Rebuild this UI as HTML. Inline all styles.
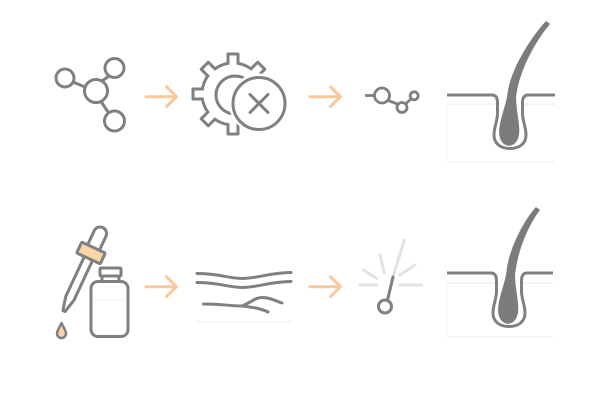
<!DOCTYPE html>
<html>
<head>
<meta charset="utf-8">
<style>
  html,body{margin:0;padding:0;background:#fff;}
  body{width:600px;height:400px;overflow:hidden;}
  svg{display:block;}
</style>
</head>
<body>
<svg width="600" height="400" viewBox="0 0 600 400" xmlns="http://www.w3.org/2000/svg">
  <defs>
    <rect id="tg" x="226.5" y="52.5" width="13" height="14" rx="1.5" fill="#808080"/>
    <rect id="tw" x="229.5" y="55.5" width="7" height="12" fill="#fff"/>
  </defs>

  <!-- ROW 1 -->
  <!-- Molecule -->
  <g fill="none" stroke="#808080" stroke-width="3">
    <line x1="73" y1="82" x2="85" y2="87"/>
    <line x1="102" y1="81" x2="109" y2="76"/>
    <line x1="101" y1="101.5" x2="108" y2="112"/>
    <circle cx="65" cy="78" r="9"/>
    <circle cx="96" cy="91" r="11.5"/>
    <circle cx="114.5" cy="68" r="9.5"/>
    <circle cx="114.5" cy="121" r="10"/>
  </g>

  <!-- Arrows -->
  <g fill="none" stroke="#f9c89b" stroke-width="3" stroke-linecap="round" stroke-linejoin="round">
    <path d="M146 96.7 H176 M166.5 86.7 L176.5 96.7 L166.5 106.5"/>
    <path d="M310 96.7 H340 M330.5 86.7 L340.5 96.7 L330.5 106.5"/>
    <path d="M146 286.7 H176 M166.5 276.7 L176.5 286.7 L166.5 296.5"/>
    <path d="M310 286.7 H340 M330.5 276.7 L340.5 286.7 L330.5 296.5"/>
  </g>

  <!-- Gear -->
  <circle cx="233" cy="94" r="32.5" fill="#808080"/>
  <use href="#tg" transform="rotate(0 233 94)"/>
  <use href="#tg" transform="rotate(45 233 94)"/>
  <use href="#tg" transform="rotate(90 233 94)"/>
  <use href="#tg" transform="rotate(135 233 94)"/>
  <use href="#tg" transform="rotate(180 233 94)"/>
  <use href="#tg" transform="rotate(225 233 94)"/>
  <use href="#tg" transform="rotate(270 233 94)"/>
  <use href="#tg" transform="rotate(315 233 94)"/>
  <circle cx="233" cy="94" r="29.5" fill="#fff"/>
  <use href="#tw" transform="rotate(0 233 94)"/>
  <use href="#tw" transform="rotate(45 233 94)"/>
  <use href="#tw" transform="rotate(90 233 94)"/>
  <use href="#tw" transform="rotate(135 233 94)"/>
  <use href="#tw" transform="rotate(180 233 94)"/>
  <use href="#tw" transform="rotate(225 233 94)"/>
  <use href="#tw" transform="rotate(270 233 94)"/>
  <use href="#tw" transform="rotate(315 233 94)"/>
  <circle cx="235" cy="95" r="19" fill="none" stroke="#808080" stroke-width="3"/>
  <circle cx="259" cy="103.5" r="30" fill="#fff"/>
  <circle cx="259" cy="103.5" r="26" fill="#fff" stroke="#808080" stroke-width="3"/>
  <g stroke="#808080" stroke-width="3" stroke-linecap="round">
    <line x1="250" y1="94.5" x2="268" y2="112.5"/>
    <line x1="268" y1="94.5" x2="250" y2="112.5"/>
  </g>

  <!-- Small molecule -->
  <g fill="none" stroke="#808080" stroke-width="2.8">
    <line x1="365" y1="95.5" x2="374.5" y2="95.5"/>
    <circle cx="382" cy="95.5" r="7.5"/>
    <line x1="388" y1="100.5" x2="397.5" y2="104"/>
    <circle cx="402" cy="107.5" r="5"/>
    <line x1="405.5" y1="104" x2="411" y2="99"/>
    <circle cx="414.2" cy="95.8" r="4"/>
  </g>

  <!-- Hair row 1 -->
  <g transform="translate(510 95)">
    <line x1="-63" y1="9.3" x2="45" y2="9.3" stroke="#f1f1f1" stroke-width="1.5"/>
    <line x1="-63" y1="66.7" x2="45" y2="66.7" stroke="#f4f4f4" stroke-width="1.5"/>
    <line x1="-63" y1="9.3" x2="-63" y2="66.7" stroke="#f6f6f6" stroke-width="1"/>
    <path d="M-63 0 L-18 0 C-14 0 -12.5 3 -12.5 8 L-12.5 18 C-12.5 26 -16 32 -16 40 C-16 49 -9 53.5 0 53.5 C9 53.5 16 49 16 40 C16 32 12.5 26 12.5 18 L12.5 8 C12.5 3 14 0 18 0 L45 0" fill="#fff" stroke="#808080" stroke-width="3" stroke-linejoin="round"/>
    <path d="M36 -73 C20 -55 1 -25 -2 0 C-3 10 -9 22 -10 34 C-11 45 -6 50 -1 50 C4 50 9 45 8.5 34 C8 22 4.5 10 5.5 0 C9 -25 24 -53 39 -71 Z" fill="#7c7c7c" stroke="#7c7c7c" stroke-width="1.5" stroke-linejoin="round"/>
  </g>

  <!-- ROW 2 -->
  <!-- Dropper -->
  <g transform="translate(91 253) rotate(25)" stroke="#808080" stroke-width="3" stroke-linejoin="round">
    <path d="M-6.5 -6 L-6.5 -21.5 A6.5 6.5 0 0 1 6.5 -21.5 L6.5 -6" fill="#fff"/>
    <path d="M-4.5 6 L-4.5 50 L-1.2 64 L1.2 64 L4.5 50 L4.5 6" fill="#fff"/>
    <rect x="-13" y="-6" width="26" height="12" rx="1" fill="#fbd5a9"/>
  </g>
  <path d="M61.5 323 C59.5 327.5 57 330.5 57 333.5 A4.5 4.5 0 0 0 66 333.5 C66 330.5 63.5 327.5 61.5 323 Z" fill="#fbd5a9" stroke="#808080" stroke-width="2.5" stroke-linejoin="round"/>
  <!-- Bottle -->
  <g fill="#fff" stroke="#808080" stroke-width="3" stroke-linejoin="round">
    <rect x="100" y="268" width="21" height="8" rx="1"/>
    <path d="M102 276 L102 281.5 M119 276 L119 281.5" fill="none"/>
    <rect x="91" y="281.5" width="37" height="55" rx="7"/>
  </g>
  <line x1="94" y1="300" x2="125" y2="300" stroke="#f0f0f0" stroke-width="1"/>

  <!-- Wavy lines -->
  <g fill="none" stroke="#808080" stroke-width="3" stroke-linecap="round">
    <path d="M197 273.5 C220 273.5 228 278.5 242 278.5 C258 278.5 270 272.5 291 272.5"/>
    <path d="M197 282.5 C220 282.5 228 287.5 242 287.5 C258 287.5 270 281.5 291 281.5"/>
    <path d="M203.5 304 C220 304 232 306 242 306 C250 303 255 297.5 262 297.5 C270 297.5 276 301 282 303"/>
    <path d="M242 306 C252 307 262 309 268 312"/>
  </g>
  <line x1="197" y1="322" x2="291" y2="322" stroke="#f2f2f2" stroke-width="1.5"/>

  <!-- Spark -->
  <g stroke="#e3e3e3" stroke-width="3" stroke-linecap="round">
    <line x1="393" y1="277" x2="404.3" y2="240"/>
    <line x1="380" y1="255" x2="384.3" y2="272.7"/>
    <line x1="363.3" y1="270" x2="376.7" y2="278.3"/>
    <line x1="360" y1="285" x2="376.7" y2="285"/>
    <line x1="400" y1="275" x2="415" y2="265"/>
    <line x1="400" y1="285" x2="421.7" y2="285"/>
  </g>
  <line x1="387.5" y1="300" x2="393" y2="277" stroke="#808080" stroke-width="3" stroke-linecap="round"/>
  <circle cx="385" cy="306.5" r="6.5" fill="#fff" stroke="#808080" stroke-width="3"/>

  <!-- Hair row 2 -->
  <g transform="translate(509 273)">
    <line x1="-62" y1="10.3" x2="44" y2="10.3" stroke="#f1f1f1" stroke-width="1.5"/>
    <line x1="-62" y1="63.7" x2="44" y2="63.7" stroke="#f4f4f4" stroke-width="1.5"/>
    <line x1="-62" y1="10.3" x2="-62" y2="63.7" stroke="#f6f6f6" stroke-width="1"/>
    <path d="M-62 0 L-18 0 C-14 0 -12.5 3 -12.5 8 L-12.5 18 C-12.5 26 -16 32 -16 40 C-16 49 -9 53.5 0 53.5 C9 53.5 16 49 16 40 C16 32 12.5 26 12.5 18 L12.5 8 C12.5 3 14 0 18 0 L44 0" fill="#fff" stroke="#808080" stroke-width="3" stroke-linejoin="round"/>
    <path d="M27 -65 C14 -50 0 -22 -2 0 C-3 10 -9 22 -10 34 C-11 45 -6 50 -1 50 C4 50 9 45 8.5 34 C8 22 4.5 10 5.5 0 C8 -22 18 -47 30 -63 Z" fill="#7c7c7c" stroke="#7c7c7c" stroke-width="1.5" stroke-linejoin="round"/>
  </g>
</svg>
</body>
</html>
